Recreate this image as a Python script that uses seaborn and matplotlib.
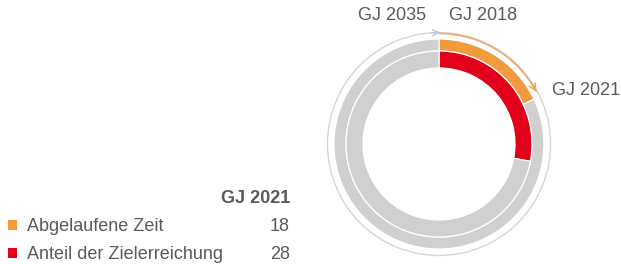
import matplotlib
matplotlib.use("Agg")
import matplotlib.pyplot as plt
import seaborn as sns
from matplotlib.patches import Arc, Circle, Rectangle
import numpy as np

# ---- data ----
categories = ["Abgelaufene Zeit", "Anteil der Zielerreichung"]
values = [18, 28]            # percent, GJ 2021
header = "GJ 2021"
year_labels = ["GJ 2035", "GJ 2018", "GJ 2021"]

sns.set_theme(style="white")
plt.rcParams["font.family"] = ["Liberation Sans", "DejaVu Sans"]

W, H = 621, 264
fig = plt.figure(figsize=(W / 100, H / 100), dpi=100)
ax = fig.add_axes([0, 0, 1, 1])

ORANGE = "#F39A3C"
RED = "#E3001B"
GRAY = "#D0D0D0"
TXT = "#5A5A5A"
LINE = "#D6D6D6"

def Y(y):
    return H - y

cx, cy = 439, Y(144)

# outer ring: elapsed time
ax.pie([values[0], 100 - values[0]], colors=[ORANGE, GRAY], radius=105,
       center=(cx, cy), startangle=90, counterclock=False,
       wedgeprops=dict(width=12, edgecolor="white", linewidth=0.9))
# inner ring: target achievement
ax.pie([values[1], 100 - values[1]], colors=[RED, GRAY], radius=93,
       center=(cx, cy), startangle=90, counterclock=False,
       wedgeprops=dict(width=17, edgecolor="white", linewidth=0.9))

# thin outer circle (gray)
ax.add_patch(Circle((cx, cy), 111.5, fill=False, edgecolor=LINE, linewidth=1.0))
# gray arrowhead at the top
ax.annotate("", xy=(cx + 1, cy + 111.5), xytext=(cx - 8, cy + 111.2),
            arrowprops=dict(arrowstyle="->", color="#BFC8D2", lw=1.0,
                            mutation_scale=11, shrinkA=0, shrinkB=0))

# orange arc: elapsed time from GJ 2018 to GJ 2021
r_o = 110.5
end_deg = 90 - values[0] / 100 * 360 + 3
ax.add_patch(Arc((cx, cy), 2 * r_o, 2 * r_o, theta1=end_deg, theta2=90,
                 color="#F4A560", linewidth=1.1))
phi = np.deg2rad(end_deg)
tip = (cx + r_o * np.cos(phi), cy + r_o * np.sin(phi))
phi2 = np.deg2rad(end_deg + 5)
tail = (cx + r_o * np.cos(phi2), cy + r_o * np.sin(phi2))
ax.annotate("", xy=tip, xytext=tail,
            arrowprops=dict(arrowstyle="->", color="#F4A560", lw=1.1,
                            mutation_scale=12, shrinkA=0, shrinkB=0))

# year labels
fs = 13
ax.text(392, Y(20), year_labels[0], ha="center", va="baseline", fontsize=fs, color=TXT)
ax.text(483, Y(20), year_labels[1], ha="center", va="baseline", fontsize=fs, color=TXT)
ax.text(552, Y(95), year_labels[2], ha="left", va="baseline", fontsize=fs, color=TXT)

# legend table
ax.text(290, Y(203), header, ha="right", va="baseline", fontsize=fs,
        color=TXT, fontweight="bold")
colors = [ORANGE, RED]
baselines = [231, 259]
for cat, val, col, b in zip(categories, values, colors, baselines):
    ax.add_patch(Rectangle((7.5, Y(b - 1)), 9.5, 10, facecolor=col, edgecolor="none"))
    ax.text(27, Y(b), cat, ha="left", va="baseline", fontsize=fs, color=TXT)
    ax.text(290, Y(b), str(val), ha="right", va="baseline", fontsize=fs, color=TXT)

ax.set_xlim(0, W)
ax.set_ylim(0, H)
ax.set_aspect("auto")
ax.axis("off")

fig.savefig("out.png", dpi=100, facecolor="white")
